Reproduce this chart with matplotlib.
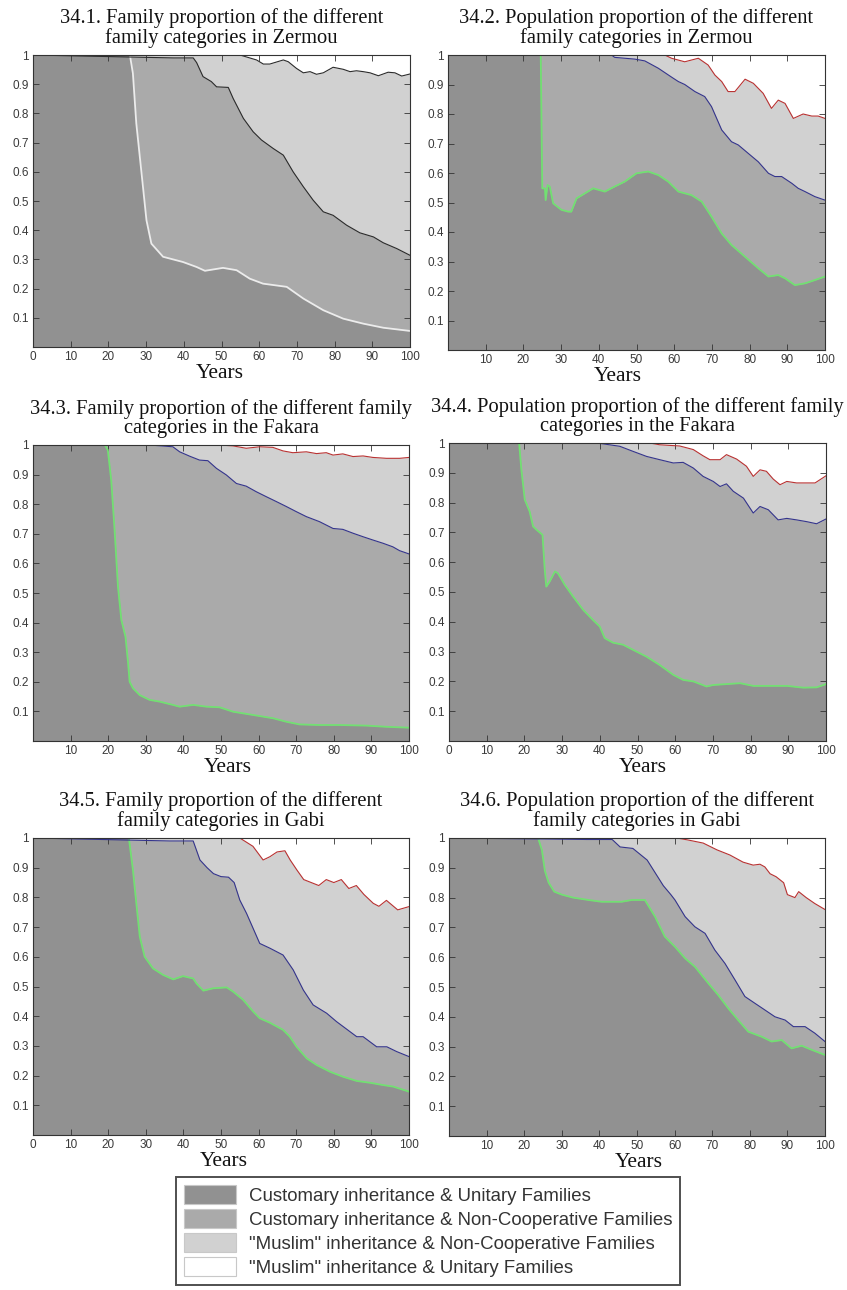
import matplotlib
matplotlib.use("Agg")
import matplotlib.pyplot as plt
from matplotlib.patches import Patch

# ---------------- data (boundaries between stacked categories) ----------------
categories = ["Customary inheritance & Unitary Families",
              "Customary inheritance & Non-Cooperative Families",
              "\"Muslim\" inheritance & Non-Cooperative Families",
              "\"Muslim\" inheritance & Unitary Families"]

titles = ["34.1. Family proportion of the different\nfamily categories in Zermou",
          "34.2. Population proportion of the different\nfamily categories in Zermou",
          "34.3. Family proportion of the different family\ncategories in the Fakara",
          "34.4. Population proportion of the different family\ncategories in the Fakara",
          "34.5. Family proportion of the different\nfamily categories in Gabi",
          "34.6. Population proportion of the different\nfamily categories in Gabi"]

xlabel = "Years"
ytick_vals = [0.1, 0.2, 0.3, 0.4, 0.5, 0.6, 0.7, 0.8, 0.9, 1.0]
ytick_labels = ["0.1", "0.2", "0.3", "0.4", "0.5", "0.6", "0.7", "0.8", "0.9", "1"]
xticks_with0 = [0, 10, 20, 30, 40, 50, 60, 70, 80, 90, 100]
xticks_no0 = [10, 20, 30, 40, 50, 60, 70, 80, 90, 100]

# Panel 1 : family, Zermou
p1_b1_x = [0, 25.7, 26.5, 27.4, 28.8, 30.1, 31.4, 34.5, 39.8, 43.4, 45.6, 50.4, 54.0, 57.5, 61.0, 67.3, 71.7, 77.0, 82.3, 87.6, 92.9, 100]
p1_b1_y = [1, 1, 0.937, 0.766, 0.594, 0.434, 0.354, 0.309, 0.291, 0.274, 0.261, 0.271, 0.263, 0.234, 0.217, 0.206, 0.166, 0.126, 0.097, 0.080, 0.066, 0.055]
p1_b2_x = [0, 37.2, 42.5, 43.4, 45.1, 47.3, 48.7, 51.8, 53.1, 55.8, 58.4, 60.6, 63.7, 66.4, 69.0, 71.7, 74.3, 77.0, 79.6, 83.2, 86.7, 90.3, 92.9, 96.5, 100]
p1_b2_y = [1, 0.99, 0.99, 0.974, 0.926, 0.909, 0.891, 0.889, 0.851, 0.783, 0.737, 0.709, 0.680, 0.657, 0.600, 0.549, 0.503, 0.463, 0.451, 0.417, 0.391, 0.377, 0.357, 0.337, 0.314]
p1_b3_x = [0, 54.9, 59.3, 61.1, 62.8, 66.4, 67.7, 69.9, 71.7, 73.5, 75.2, 77.0, 79.6, 82.3, 84.1, 85.8, 87.6, 89.4, 91.6, 94.2, 96.0, 97.8, 100]
p1_b3_y = [1, 1, 0.983, 0.969, 0.969, 0.983, 0.977, 0.954, 0.939, 0.943, 0.934, 0.939, 0.958, 0.951, 0.943, 0.946, 0.943, 0.939, 0.929, 0.941, 0.939, 0.928, 0.935]

# Panel 2 : population, Zermou
p2_b1_x = [0, 24.6, 25.0, 25.7, 25.9, 26.4, 27.0, 27.9, 30.1, 31.9, 32.7, 34.1, 36.3, 38.5, 41.6, 44.2, 46.9, 50.0, 53.1, 55.8, 58.4, 61.1, 64.6, 67.3, 69.9, 72.6, 75.2, 78.8, 82.3, 85.0, 87.6, 89.4, 92.0, 94.7, 97.3, 100]
p2_b1_y = [1, 1, 0.548, 0.548, 0.508, 0.559, 0.554, 0.497, 0.475, 0.469, 0.469, 0.514, 0.531, 0.548, 0.537, 0.554, 0.571, 0.599, 0.605, 0.593, 0.571, 0.537, 0.525, 0.503, 0.452, 0.395, 0.356, 0.316, 0.277, 0.249, 0.254, 0.243, 0.220, 0.226, 0.237, 0.249]
p2_b2_x = [0, 43.4, 44.2, 49.6, 52.2, 55.8, 59.3, 61.1, 62.8, 65.5, 68.1, 69.9, 72.6, 75.2, 77.0, 79.6, 82.3, 85.0, 86.7, 88.5, 91.2, 92.9, 94.7, 97.3, 100]
p2_b2_y = [1, 1, 0.992, 0.986, 0.980, 0.955, 0.925, 0.910, 0.900, 0.876, 0.859, 0.825, 0.746, 0.706, 0.695, 0.667, 0.638, 0.599, 0.588, 0.588, 0.565, 0.548, 0.537, 0.520, 0.508]
p2_b3_x = [0, 57.5, 59.3, 62.8, 66.4, 69.0, 70.8, 72.6, 74.3, 76.1, 78.8, 81.0, 83.6, 85.8, 87.6, 89.4, 91.6, 94.2, 96.5, 98.2, 100]
p2_b3_y = [1, 1, 0.989, 0.977, 0.989, 0.966, 0.932, 0.910, 0.876, 0.876, 0.918, 0.904, 0.870, 0.819, 0.847, 0.836, 0.785, 0.800, 0.793, 0.793, 0.785]

# Panel 3 : family, Fakara
p3_b1_x = [0, 19.1, 19.9, 20.8, 21.7, 22.6, 23.5, 24.6, 25.3, 25.7, 26.6, 28.4, 31.0, 33.7, 37.2, 39.0, 42.6, 46.1, 49.6, 53.2, 58.5, 63.8, 67.4, 70.9, 76.2, 81.6, 88.7, 94.0, 100]
p3_b1_y = [1, 1, 0.983, 0.882, 0.713, 0.521, 0.409, 0.352, 0.262, 0.200, 0.178, 0.155, 0.139, 0.133, 0.122, 0.116, 0.122, 0.116, 0.114, 0.099, 0.088, 0.077, 0.065, 0.056, 0.054, 0.054, 0.052, 0.048, 0.045]
p3_b2_x = [0, 31.0, 37.2, 39.0, 41.7, 44.3, 46.5, 48.8, 51.4, 54.1, 56.7, 59.4, 62.1, 64.7, 67.4, 70.0, 72.7, 76.2, 79.8, 82.4, 85.1, 87.8, 90.4, 93.1, 95.7, 97.5, 100]
p3_b2_y = [1, 1, 0.994, 0.977, 0.962, 0.949, 0.947, 0.921, 0.899, 0.870, 0.861, 0.842, 0.825, 0.809, 0.792, 0.775, 0.758, 0.741, 0.718, 0.715, 0.702, 0.690, 0.679, 0.668, 0.656, 0.643, 0.632]
p3_b3_x = [0, 49.6, 53.2, 56.7, 60.3, 63.8, 66.5, 69.1, 72.7, 75.4, 78.0, 79.8, 82.4, 85.1, 87.8, 90.4, 94.0, 97.5, 100]
p3_b3_y = [1, 1, 0.997, 0.989, 0.994, 0.992, 0.980, 0.974, 0.977, 0.971, 0.974, 0.966, 0.970, 0.961, 0.963, 0.958, 0.955, 0.955, 0.958]

# Panel 4 : population, Fakara
p4_b1_x = [0, 18.6, 19.2, 20.1, 21.4, 22.3, 23.2, 24.8, 25.4, 25.8, 26.7, 28.1, 28.9, 30.7, 32.9, 35.6, 38.2, 40.0, 41.3, 43.5, 46.2, 48.8, 52.4, 55.9, 59.5, 62.1, 64.8, 68.3, 70.1, 73.6, 77.2, 80.7, 85.1, 89.6, 94.0, 97.5, 100]
p4_b1_y = [1, 1, 0.910, 0.810, 0.770, 0.720, 0.709, 0.692, 0.574, 0.518, 0.535, 0.569, 0.563, 0.524, 0.485, 0.440, 0.406, 0.384, 0.345, 0.330, 0.323, 0.306, 0.283, 0.255, 0.222, 0.205, 0.200, 0.183, 0.188, 0.191, 0.194, 0.185, 0.185, 0.185, 0.179, 0.180, 0.191]
p4_b2_x = [0, 38.2, 40.4, 45.3, 48.8, 52.4, 55.9, 59.5, 62.1, 64.8, 67.4, 70.1, 71.9, 73.6, 75.4, 78.1, 80.7, 82.5, 84.7, 87.3, 89.6, 92.2, 94.9, 97.5, 100]
p4_b2_y = [1, 1, 0.998, 0.989, 0.972, 0.955, 0.944, 0.933, 0.935, 0.916, 0.888, 0.871, 0.854, 0.863, 0.838, 0.815, 0.765, 0.787, 0.776, 0.742, 0.747, 0.742, 0.736, 0.729, 0.745]
p4_b3_x = [0, 53.3, 55.9, 61.2, 64.8, 67.4, 69.2, 71.9, 73.6, 76.3, 78.9, 80.7, 82.5, 84.2, 86.0, 87.8, 89.6, 92.2, 94.9, 97.1, 100]
p4_b3_y = [1, 1, 0.994, 0.990, 0.978, 0.957, 0.944, 0.944, 0.961, 0.946, 0.922, 0.888, 0.910, 0.905, 0.879, 0.860, 0.871, 0.866, 0.866, 0.866, 0.890]

# Panel 5 : family, Gabi
p5_b1_x = [0, 25.5, 26.6, 27.4, 28.4, 29.7, 31.9, 34.6, 37.3, 39.9, 42.6, 43.5, 45.3, 47.9, 51.5, 53.2, 55.9, 58.6, 60.3, 63.0, 66.5, 68.3, 70.1, 72.8, 75.4, 79.0, 82.5, 86.1, 89.6, 93.2, 95.8, 100]
p5_b1_y = [1, 1, 0.89, 0.79, 0.668, 0.600, 0.561, 0.539, 0.524, 0.535, 0.527, 0.510, 0.486, 0.494, 0.497, 0.483, 0.455, 0.415, 0.393, 0.378, 0.354, 0.331, 0.297, 0.258, 0.236, 0.213, 0.196, 0.182, 0.176, 0.168, 0.163, 0.146]
p5_b2_x = [0, 36.4, 42.6, 44.4, 46.3, 48.0, 50.0, 52.0, 53.5, 55.0, 56.8, 60.3, 63.0, 66.5, 69.2, 71.9, 74.5, 78.1, 80.7, 84.3, 86.1, 87.8, 91.4, 94.1, 96.7, 100]
p5_b2_y = [1, 0.99, 0.99, 0.926, 0.900, 0.880, 0.870, 0.868, 0.850, 0.791, 0.746, 0.645, 0.629, 0.606, 0.556, 0.488, 0.438, 0.410, 0.382, 0.348, 0.331, 0.331, 0.297, 0.297, 0.281, 0.264]
p5_b3_x = [0, 55.0, 58.5, 61.2, 63.0, 64.9, 67.0, 68.4, 70.2, 72.0, 74.0, 76.0, 78.0, 80.0, 82.0, 84.0, 86.0, 88.0, 90.5, 92.0, 94.0, 97.0, 100]
p5_b3_y = [1, 1, 0.972, 0.926, 0.937, 0.953, 0.957, 0.926, 0.892, 0.860, 0.850, 0.840, 0.860, 0.850, 0.860, 0.830, 0.840, 0.810, 0.780, 0.770, 0.790, 0.758, 0.769]

# Panel 6 : population, Gabi
p6_b1_x = [0, 23.7, 24.7, 25.5, 26.5, 28.0, 30.0, 33.0, 37.1, 40.6, 45.9, 48.6, 52.1, 54.8, 57.4, 60.1, 62.8, 65.4, 69.0, 71.6, 74.3, 76.9, 79.6, 83.2, 85.8, 88.5, 91.1, 93.8, 96.5, 100]
p6_b1_y = [1, 1, 0.96, 0.89, 0.85, 0.82, 0.81, 0.80, 0.792, 0.786, 0.786, 0.792, 0.792, 0.736, 0.669, 0.635, 0.596, 0.568, 0.512, 0.473, 0.428, 0.389, 0.350, 0.333, 0.317, 0.322, 0.294, 0.303, 0.289, 0.272]
p6_b2_x = [0, 36.7, 43.4, 45.5, 48.9, 52.7, 55.0, 57.0, 59.0, 60.1, 62.8, 65.4, 68.1, 70.7, 73.4, 76.1, 78.7, 81.4, 84.0, 86.7, 89.4, 91.6, 94.7, 97.3, 100]
p6_b2_y = [1, 0.995, 0.995, 0.97, 0.965, 0.926, 0.88, 0.84, 0.81, 0.792, 0.736, 0.702, 0.680, 0.624, 0.579, 0.523, 0.468, 0.445, 0.423, 0.400, 0.389, 0.367, 0.367, 0.345, 0.317]
p6_b3_x = [0, 60.6, 63.3, 67.6, 71.3, 74.7, 78.2, 80.9, 82.7, 84.0, 85.4, 87.0, 88.0, 89.0, 90.0, 92.0, 93.0, 95.0, 97.3, 100]
p6_b3_y = [1, 1, 0.994, 0.983, 0.960, 0.943, 0.919, 0.909, 0.912, 0.903, 0.880, 0.870, 0.860, 0.850, 0.810, 0.800, 0.820, 0.800, 0.780, 0.760]

panels = [
    [(p1_b1_x, p1_b1_y), (p1_b2_x, p1_b2_y), (p1_b3_x, p1_b3_y)],
    [(p2_b1_x, p2_b1_y), (p2_b2_x, p2_b2_y), (p2_b3_x, p2_b3_y)],
    [(p3_b1_x, p3_b1_y), (p3_b2_x, p3_b2_y), (p3_b3_x, p3_b3_y)],
    [(p4_b1_x, p4_b1_y), (p4_b2_x, p4_b2_y), (p4_b3_x, p4_b3_y)],
    [(p5_b1_x, p5_b1_y), (p5_b2_x, p5_b2_y), (p5_b3_x, p5_b3_y)],
    [(p6_b1_x, p6_b1_y), (p6_b2_x, p6_b2_y), (p6_b3_x, p6_b3_y)],
]

# ---------------- style ----------------
fill_colors = ["#919191", "#aaaaaa", "#d1d1d1", "#ffffff"]
line_colors_p1 = ["#ececec", "#2b2b2b", "#2b2b2b"]
line_colors = ["#72e072", "#34348c", "#b83232"]

W, H = 847, 1290
fig = plt.figure(figsize=(W / 100, H / 100), dpi=100)

# axes boxes in pixels: (left, top, right, bottom)
boxes = [(33, 55, 410, 347), (448, 55, 825, 350),
         (33, 445, 409, 741), (449, 443, 826, 741),
         (33, 838, 409, 1135), (449, 838, 825, 1136)]
show_zero = [True, False, False, True, True, False]
xlabel_pos = [0.496, 0.45, 0.518, 0.515, 0.508, 0.505]

serif = ["Liberation Serif", "DejaVu Serif"]
sans = ["Liberation Sans", "DejaVu Sans"]

for i, (box, bounds) in enumerate(zip(boxes, panels)):
    l, t, r, b = box
    ax = fig.add_axes([l / W, 1 - b / H, (r - l) / W, (b - t) / H])
    ax.set_facecolor(fill_colors[3])
    # paint from top layer down
    for k in (2, 1, 0):
        xs, ys = bounds[k]
        ax.fill_between(xs, ys, 0, color=fill_colors[k], linewidth=0, zorder=1 + (2 - k) * 0.1)
    lc = line_colors_p1 if i == 0 else line_colors
    for k in range(3):
        xs, ys = bounds[k]
        ax.plot(xs, ys, color=lc[k], lw=1.3 if k == 0 else 0.8, zorder=2)
    ax.set_xlim(0, 100)
    ax.set_ylim(0, 1)
    ax.set_xticks(xticks_with0 if show_zero[i] else xticks_no0)
    ax.set_yticks(ytick_vals)
    ax.set_yticklabels(ytick_labels)
    ax.tick_params(direction="in", top=True, right=True, length=4, width=0.6,
                   color="#333333", labelsize=8.5, labelcolor="#3a3a3a", pad=3)
    for lab in ax.get_xticklabels() + ax.get_yticklabels():
        lab.set_family(sans)
    for sp in ax.spines.values():
        sp.set_color("#333333")
        sp.set_linewidth(0.8)
    ax.annotate(titles[i], xy=(0.5, 1), xycoords="axes fraction", xytext=(0, 5),
                textcoords="offset points", ha="center", va="bottom",
                fontsize=14.8, family=serif, linespacing=1.02, color="#111111")
    ax.set_xlabel(xlabel, fontsize=15.5, family=serif, color="#111111")
    ax.xaxis.set_label_coords(xlabel_pos[i], -0.058)

handles = [Patch(facecolor=c, edgecolor="#c8c8c8", linewidth=0.8) for c in fill_colors]
leg = fig.legend(handles, categories, loc="upper left",
                 bbox_to_anchor=(176 / W, 1 - 1177 / H), bbox_transform=fig.transFigure,
                 borderaxespad=0, frameon=True, fancybox=False, shadow=False,
                 prop={"family": sans, "size": 13.4},
                 handlelength=2.8, handleheight=1.15, labelspacing=0.24,
                 handletextpad=0.65, borderpad=0.45)
leg.get_frame().set_edgecolor("#222222")
leg.get_frame().set_linewidth(1.4)
for txt in leg.get_texts():
    txt.set_color("#333333")

fig.savefig("out.png", dpi=100)
